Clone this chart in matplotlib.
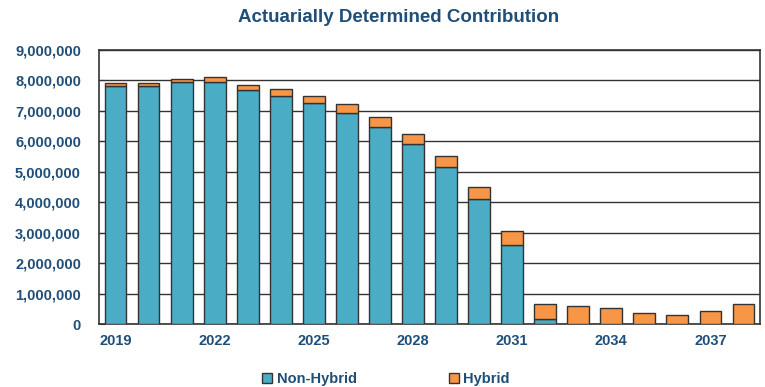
import numpy as np
import matplotlib
matplotlib.use("Agg")
import matplotlib.pyplot as plt
from matplotlib.patches import Patch
from matplotlib.ticker import FuncFormatter

# Fiscal years and contribution amounts
years = list(range(2019, 2039))
non_hybrid = [7820000, 7820000, 7940000, 7940000, 7680000, 7480000, 7260000, 6940000,
              6470000, 5910000, 5150000, 4110000, 2600000, 150000, 0, 0, 0, 0, 0, 0]
hybrid = [90000, 110000, 120000, 160000, 170000, 230000, 240000, 280000,
          320000, 340000, 370000, 400000, 450000, 500000, 590000, 520000,
          370000, 310000, 430000, 660000]
tick_years = [2019, 2022, 2025, 2028, 2031, 2034, 2037]

navy = "#1F4E79"
teal = "#4BACC6"
orange = "#F79646"

plt.rcParams["font.family"] = ["Liberation Sans", "DejaVu Sans"]

fig = plt.figure(figsize=(7.65, 3.87), dpi=100)
ax = fig.add_axes([99 / 765, 1 - 324 / 387, 661 / 765, 274 / 387])

x = np.arange(len(years))
ax.bar(x, non_hybrid, width=0.66, color=teal, edgecolor="#333333", linewidth=1.0, zorder=3)
ax.bar(x, hybrid, width=0.66, bottom=non_hybrid, color=orange, edgecolor="#333333",
       linewidth=1.0, zorder=3)

ax.set_xlim(-0.5, len(years) - 0.5)
ax.set_ylim(0, 9000000)
ax.set_yticks(np.arange(0, 9000001, 1000000))
ax.yaxis.set_major_formatter(FuncFormatter(lambda v, p: f"{int(v):,}"))
ax.grid(axis="y", color="#333333", linewidth=1.0, zorder=1)

ax.set_xticks([years.index(y) for y in tick_years])
ax.set_xticklabels([str(y) for y in tick_years])
ax.tick_params(axis="y", direction="in", length=4, colors="#333333", labelcolor=navy,
               labelsize=10.5, pad=13)
ax.tick_params(axis="x", length=0, labelcolor=navy, labelsize=10.5, pad=7)
for lbl in ax.get_xticklabels() + ax.get_yticklabels():
    lbl.set_fontweight("bold")
for s in ax.spines.values():
    s.set_color("#333333")
    s.set_linewidth(1.2)

fig.text(399 / 765, 1 - 18 / 387, "Actuarially Determined Contribution", ha="center",
         va="center", fontsize=13.5, fontweight="bold", color=navy)

handles = [Patch(facecolor=teal, edgecolor="#333333"), Patch(facecolor=orange, edgecolor="#333333")]
leg = fig.legend(handles, ["Non-Hybrid", "Hybrid"], loc="center", ncol=2,
                 bbox_to_anchor=(386 / 765, 1 - 379 / 387), frameon=False,
                 handlelength=0.7, handleheight=0.7, handletextpad=0.3, columnspacing=6.3,
                 prop={"size": 10.5, "weight": "bold"})
for t in leg.get_texts():
    t.set_color(navy)

fig.savefig("out.png", dpi=100)
